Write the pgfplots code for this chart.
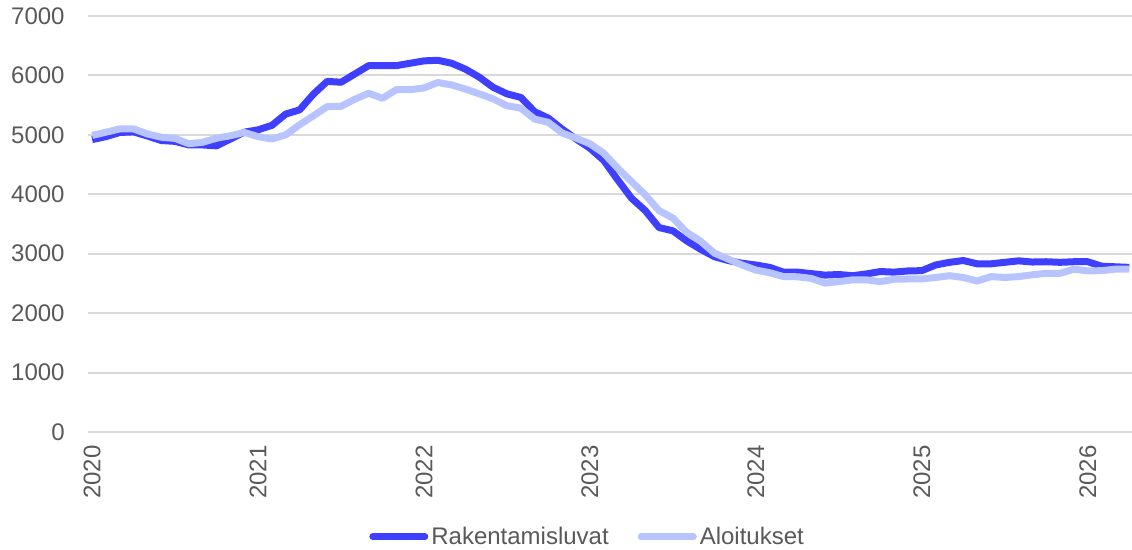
\documentclass[border=0pt]{standalone}
\usepackage{pgfplots}
\pgfplotsset{compat=1.18}
\usepackage{fontspec}
\setmainfont{Liberation Sans}
\definecolor{darkb}{HTML}{3F3FFF}
\definecolor{lightb}{HTML}{B8C4FF}
\definecolor{txt}{HTML}{595959}
\definecolor{grd}{HTML}{D9D9D9}
\pgfplotstableread{
i r a
0 4920 4990
1 4970 5045
2 5040 5100
3 5050 5100
4 4980 5015
5 4905 4960
6 4890 4940
7 4830 4850
8 4830 4875
9 4815 4945
10 4930 4985
11 5045 5040
12 5085 4970
13 5160 4930
14 5350 5000
15 5420 5170
16 5685 5320
17 5900 5475
18 5885 5480
19 6025 5600
20 6165 5700
21 6165 5615
22 6165 5760
23 6205 5760
24 6245 5790
25 6255 5880
26 6205 5840
27 6105 5770
28 5970 5690
29 5800 5605
30 5690 5490
31 5630 5450
32 5390 5265
33 5280 5210
34 5095 5030
35 4930 4945
36 4775 4850
37 4570 4690
38 4245 4440
39 3935 4215
40 3725 3990
41 3440 3725
42 3385 3600
43 3215 3360
44 3075 3210
45 2950 3010
46 2885 2910
47 2840 2810
48 2810 2725
49 2770 2680
50 2690 2615
51 2690 2612
52 2665 2585
53 2640 2505
54 2650 2530
55 2630 2560
56 2660 2560
57 2700 2530
58 2690 2570
59 2710 2575
60 2715 2575
61 2810 2600
62 2855 2630
63 2885 2600
64 2830 2540
65 2830 2615
66 2855 2600
67 2880 2615
68 2860 2645
69 2865 2670
70 2855 2670
71 2865 2740
72 2865 2710
73 2790 2715
74 2780 2740
75 2770 2740
}\datatable
\begin{document}
\begin{tikzpicture}
\begin{axis}[
  width=522pt, height=208pt, scale only axis,
  xmin=-0.3, xmax=75.2, ymin=0, ymax=7000,
  ytick={0,1000,...,7000},
  xtick={0,12,...,72},
  xticklabels={2020,2021,2022,2023,2024,2025,2026},
  axis line style={draw=none},
  tick style={draw=none},
  ymajorgrids,
  grid style={color=grd, line width=1pt},
  font=\fontsize{12}{14}\selectfont,
  tick label style={text=txt, font=\fontsize{12}{14}\selectfont},
  /pgf/number format/assume math mode=true,
  /pgf/number format/1000 sep={},
  x tick label style={rotate=90, anchor=east, inner xsep=7.5pt, inner ysep=0pt, xshift=1pt},
  y tick label style={anchor=east, inner xsep=0pt, xshift=-11.5pt},
  legend style={at={(0.479,-0.252)}, anchor=center, draw=none, fill=none,
    legend columns=2, font=\fontsize{12}{14}\selectfont, text=txt,
    /tikz/every even column/.append style={column sep=13pt},
    nodes={inner xsep=1.5pt}},
  legend image code/.code={\draw[#1, line cap=round] (0pt,0pt) -- (26pt,0pt);},
  line join=round,
]
\addplot[darkb, line width=3.5pt] table[x=i, y=r] {\datatable};
\addlegendentry{Rakentamisluvat}
\addplot[lightb, line width=3.5pt] table[x=i, y=a] {\datatable};
\addlegendentry{Aloitukset}
\end{axis}
\pgfresetboundingbox
\path[use as bounding box] ([xshift=-44pt, yshift=8pt]current axis.north west) rectangle ([yshift=-59pt]current axis.south east);
\end{tikzpicture}
\end{document}
